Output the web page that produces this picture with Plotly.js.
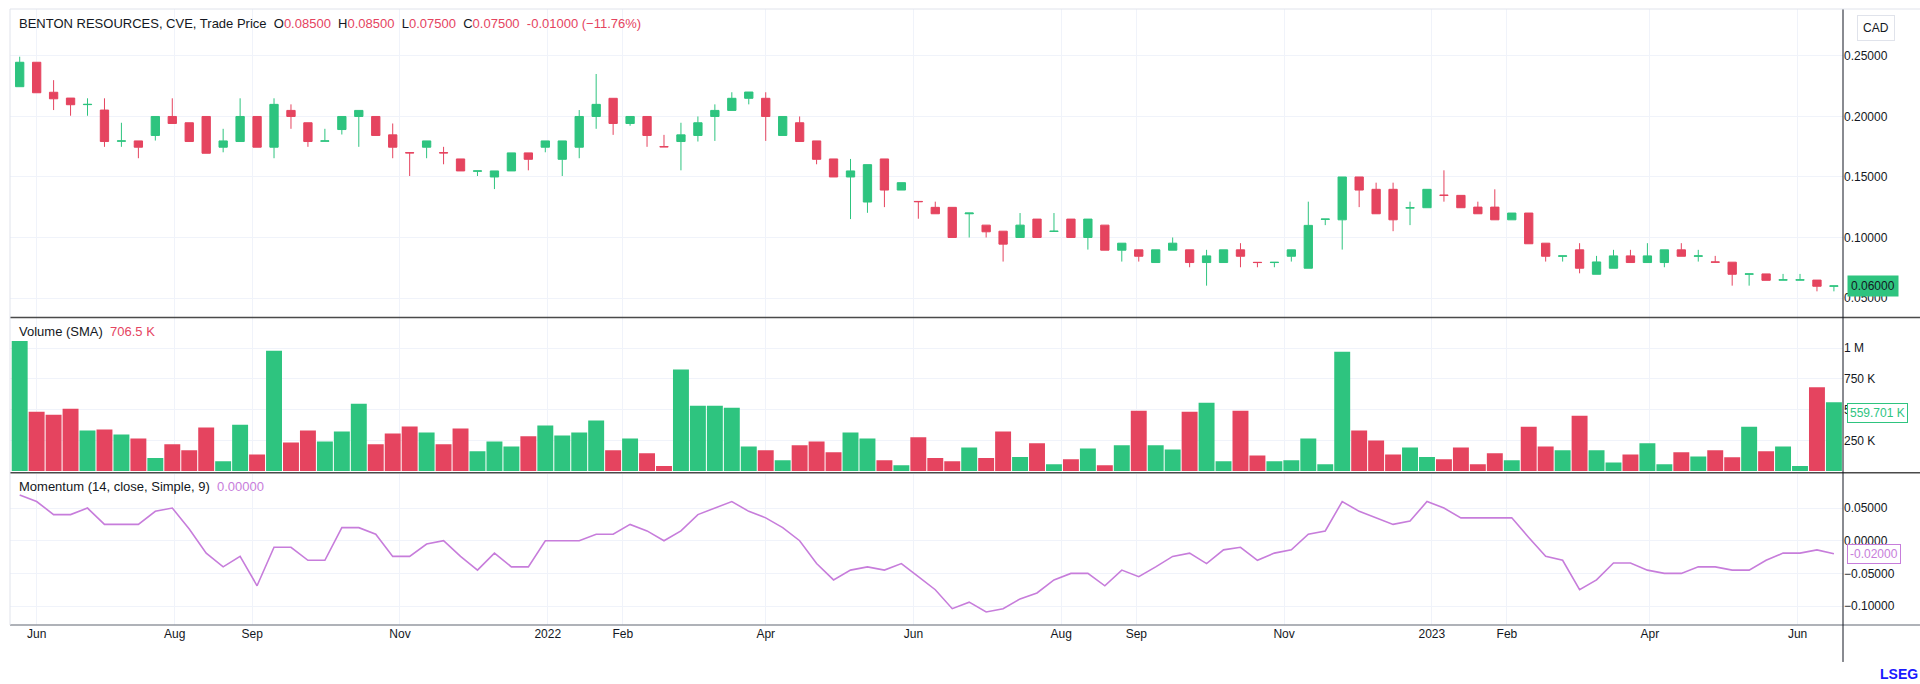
<!DOCTYPE html>
<html>
<head>
<meta charset="utf-8">
<script src="https://cdn.plot.ly/plotly-3.0.1.min.js"></script>
<style>
  html, body { margin: 0; padding: 0; background: #fff; }
  #chart { width: 1920px; height: 684px; }
</style>
</head>
<body>
<div id="chart"></div>
<script>
// weekly bars, May 2021 - Jun 2023
var opens  = [.2246,.2448,.2200,.2152,.2098,.2053,.1796,.1798,.1843,.2000,.1948,.2000,.1746,.1793,.2000,.1746,.2050,.1948,.1796,.1892,
              .2000,.2000,.1848,.1701,.1746,.1701,.1649,.1548,.1500,.1550,.1699,.1746,.1646,.1746,.2000,.2150,.1942,.2000,.1751,.1793,
              .1843,.2000,.2050,.2150,.2150,.1843,.1948,.1798,.1649,.1500,.1293,.1649,.1392,.1298,.1249,.1249,.1196,.1102,.1052,.1000,
              .1152,.1050,.1152,.1000,.1102,.0895,.0898,.0793,.0895,.0898,.0793,.0793,.0898,.0795,.0793,.0845,.0746,.1150,.1146,.1500,
              .1398,.1398,.1243,.1246,.1350,.1348,.1251,.1251,.1146,.1202,.0953,.0845,.0898,.0696,.0746,.0848,.0793,.0793,.0898,.0845,
              .0798,.0796,.0697,.0699,.0648,.0648,.0648,.0597];
var highs  = [.2494,.2448,.2300,.2152,.2150,.2150,.1948,.1798,.2000,.2150,.1948,.2000,.1898,.2150,.2000,.2150,.2100,.1948,.1898,.2000,
              .2050,.2000,.1942,.1701,.1798,.1749,.1649,.1550,.1550,.1699,.1699,.1798,.1798,.2053,.2351,.2150,.2000,.2000,.1848,.1948,
              .2000,.2100,.2200,.2202,.2200,.2000,.2000,.1798,.1649,.1649,.1602,.1649,.1453,.1298,.1296,.1249,.1202,.1102,.1052,.1202,
              .1152,.1202,.1152,.1152,.1102,.0953,.0898,.0898,.1000,.0898,.0898,.0898,.0953,.0795,.0795,.0898,.1296,.1152,.1500,.1500,
              .1453,.1453,.1296,.1398,.1555,.1348,.1296,.1398,.1202,.1202,.0953,.0848,.0953,.0848,.0898,.0898,.0953,.0898,.0953,.0898,
              .0848,.0796,.0699,.0699,.0699,.0699,.0648,.0600];
var lows   = [.2246,.2196,.2053,.2006,.2006,.1749,.1749,.1655,.1801,.1942,.1793,.1696,.1704,.1793,.1746,.1655,.1898,.1749,.1796,.1851,
              .1749,.1843,.1655,.1508,.1655,.1605,.1550,.1508,.1400,.1550,.1555,.1704,.1508,.1655,.1898,.1848,.1923,.1749,.1749,.1555,
              .1793,.1798,.2050,.2100,.1798,.1843,.1793,.1605,.1500,.1152,.1204,.1251,.1392,.1155,.1196,.1000,.1000,.1000,.0801,.1000,
              .1000,.1050,.1000,.0900,.0895,.0801,.0801,.0793,.0895,.0754,.0602,.0793,.0754,.0754,.0754,.0801,.0746,.1102,.0900,.1251,
              .1196,.1052,.1102,.1246,.1296,.1246,.1196,.1146,.1146,.0948,.0801,.0801,.0704,.0696,.0746,.0793,.0793,.0754,.0845,.0801,
              .0796,.0602,.0602,.0646,.0648,.0648,.0555,.0555];
var closes = [.2448,.2196,.2146,.2097,.2100,.1793,.1798,.1746,.2000,.1942,.1793,.1696,.1798,.2000,.1746,.2100,.2000,.1793,.1798,.2000,
              .2050,.1843,.1746,.1699,.1798,.1699,.1550,.1550,.1550,.1699,.1646,.1798,.1798,.2000,.2100,.1942,.2000,.1843,.1749,.1848,
              .1948,.2050,.2150,.2202,.2000,.2000,.1793,.1646,.1500,.1550,.1602,.1392,.1453,.1296,.1196,.1000,.1202,.1047,.0945,.1102,
              .1000,.1052,.1000,.1152,.0895,.0953,.0845,.0898,.0953,.0793,.0848,.0898,.0845,.0793,.0795,.0898,.1100,.1152,.1500,.1392,
              .1196,.1146,.1246,.1398,.1348,.1246,.1196,.1146,.1202,.0948,.0845,.0848,.0746,.0798,.0848,.0793,.0848,.0898,.0845,.0848,
              .0796,.0696,.0699,.0646,.0650,.0650,.0597,.0600];
var volumes = [1059,482,458,506,330,338,298,265,106,217,168,355,79,376,135,980,233,330,241,322,
               547,217,306,363,314,217,347,160,241,200,282,371,290,314,412,168,265,144,41,826,
               531,531,515,200,168,87,209,241,152,314,265,87,46,274,106,79,192,106,322,114,
               225,54,95,184,46,209,490,209,176,482,555,79,490,127,79,87,265,54,972,330,
               249,135,192,114,95,192,54,144,87,360,200,168,450,168,70,135,225,54,152,119,
               168,111,360,160,200,41,682,560];
var momentum = [.070,.060,.040,.040,.050,.025,.025,.025,.045,.050,.018,-.019,-.040,-.024,-.069,-.010,-.010,-.030,-.030,.020,
                .020,.010,-.024,-.024,-.005,.000,-.024,-.045,-.019,-.040,-.040,.000,.000,.000,.010,.010,.025,.015,.000,.015,
                .040,.050,.060,.045,.035,.020,.000,-.035,-.060,-.045,-.040,-.045,-.035,-.055,-.075,-.104,-.094,-.109,-.104,-.089,
                -.080,-.060,-.050,-.050,-.069,-.045,-.055,-.040,-.024,-.019,-.035,-.014,-.010,-.030,-.019,-.014,.010,.015,.060,.045,
                .035,.025,.030,.060,.050,.035,.035,.035,.035,.005,-.024,-.030,-.075,-.060,-.034,-.034,-.045,-.050,-.050,-.040,
                -.040,-.045,-.045,-.030,-.019,-.019,-.014,-.020];
var tickDates = ['2021-05-31','2021-07-27','2021-08-28','2021-10-28','2021-12-28','2022-01-28','2022-03-28','2022-05-28',
                 '2022-07-28','2022-08-28','2022-10-28','2022-12-28','2023-01-28','2023-03-28','2023-05-28'];
var tickLabels = ['Jun','Aug','Sep','Nov','2022','Feb','Apr','Jun','Aug','Sep','Nov','2023','Feb','Apr','Jun'];

var UP = '#2ec47f', DOWN = '#e5445f', MOM = '#c77ddb';

var dates = [];
var d0 = new Date(Date.UTC(2021, 4, 24));
for (var i = 0; i < closes.length; i++) {
  var d = new Date(d0.getTime() + i * 7 * 86400000);
  dates.push(d.toISOString().slice(0, 10));
}
var volColors = closes.map(function (c, i) { return c >= opens[i] ? UP : DOWN; });
var volValues = volumes.map(function (v) { return v * 1000; });

var font = {family: 'Liberation Sans, Arial, sans-serif', size: 12, color: '#131722'};
var grid = '#f0f3fa';

var data = [
  {type: 'candlestick', x: dates, open: opens, high: highs, low: lows, close: closes,
   increasing: {line: {color: UP, width: 1}, fillcolor: UP},
   decreasing: {line: {color: DOWN, width: 1}, fillcolor: DOWN},
   whiskerwidth: 0, xaxis: 'x', yaxis: 'y', hoverinfo: 'skip'},
  {type: 'bar', x: dates, y: volValues, marker: {color: volColors, line: {width: 0}},
   xaxis: 'x', yaxis: 'y2', hoverinfo: 'skip'},
  {type: 'scatter', mode: 'lines', x: dates, y: momentum, line: {color: MOM, width: 1.6},
   xaxis: 'x', yaxis: 'y3', hoverinfo: 'skip'}
];

var xr = ['2021-05-20', '2023-06-15 18:00'];
var layout = {
  width: 1920, height: 684,
  margin: {l: 10, r: 77, t: 9, b: 59},
  paper_bgcolor: '#fff', plot_bgcolor: '#fff',
  showlegend: false, bargap: 0.06, font: font,
  xaxis: {type: 'date', range: xr, tickvals: tickDates, ticktext: tickLabels,
          showgrid: true, gridcolor: grid, rangeslider: {visible: false},
          zeroline: false, ticks: '', tickfont: {size: 12, color: '#131722'}, anchor: 'y3'},
  yaxis: {domain: [0.5, 1], side: 'right', range: [0.0343, 0.2888],
          tickvals: [0.05, 0.10, 0.15, 0.20, 0.25], tickformat: '.5f',
          gridcolor: grid, zeroline: false, ticks: '', fixedrange: true},
  yaxis2: {domain: [0.25, 0.498], side: 'right', range: [0, 1244000],
           tickvals: [250000, 500000, 750000, 1000000], ticktext: ['250 K', '500 K', '750 K', '1 M'],
           gridcolor: grid, zeroline: false, ticks: ''},
  yaxis3: {domain: [0, 0.245], side: 'right', range: [-0.129, 0.102],
           tickvals: [-0.10, -0.05, 0, 0.05], tickformat: '.5f',
           gridcolor: grid, zeroline: false, ticks: ''},
  shapes: [
    {type: 'line', xref: 'paper', yref: 'paper', x0: 0, x1: 1.042, y0: 0.499, y1: 0.499, line: {color: '#4a4a4a', width: 1.5}},
    {type: 'line', xref: 'paper', yref: 'paper', x0: 0, x1: 1.042, y0: 0.247, y1: 0.247, line: {color: '#4a4a4a', width: 1.5}},
    {type: 'line', xref: 'paper', yref: 'paper', x0: 0, x1: 1.042, y0: 0, y1: 0, line: {color: '#9598a1', width: 1.5}},
    {type: 'line', xref: 'paper', yref: 'paper', x0: 1, x1: 1, y0: -0.06, y1: 1, line: {color: '#131722', width: 1}},
    {type: 'line', xref: 'paper', yref: 'paper', x0: 0, x1: 0, y0: 0, y1: 1, line: {color: '#e0e3eb', width: 1}},
    {type: 'line', xref: 'paper', yref: 'paper', x0: 0, x1: 1.042, y0: 1, y1: 1, line: {color: '#e0e3eb', width: 1}}
  ],
  annotations: [
    {xref: 'paper', yref: 'paper', x: 0.004, y: 0.992, xanchor: 'left', yanchor: 'top', showarrow: false,
     font: {size: 13, color: '#131722'},
     text: 'BENTON RESOURCES, CVE, Trade Price  O<span style="color:' + DOWN + '">0.08500</span>  H<span style="color:' + DOWN + '">0.08500</span>  L<span style="color:' + DOWN + '">0.07500</span>  C<span style="color:' + DOWN + '">0.07500</span>  <span style="color:' + DOWN + '">-0.01000 (−11.76%)</span>'},
    {xref: 'paper', yref: 'paper', x: 0.004, y: 0.492, xanchor: 'left', yanchor: 'top', showarrow: false,
     font: {size: 13, color: '#131722'},
     text: 'Volume (SMA)  <span style="color:' + DOWN + '">706.5 K</span>'},
    {xref: 'paper', yref: 'paper', x: 0.004, y: 0.24, xanchor: 'left', yanchor: 'top', showarrow: false,
     font: {size: 13, color: '#131722'},
     text: 'Momentum (14, close, Simple, 9)  <span style="color:' + MOM + '">0.00000</span>'},
    {xref: 'paper', yref: 'paper', x: 1.0075, y: 0.99, xanchor: 'left', yanchor: 'top', showarrow: false,
     text: 'CAD', font: {size: 12, color: '#131722'}, bordercolor: '#e0e3eb', borderwidth: 1, borderpad: 5, bgcolor: '#fff'},
    {xref: 'paper', yref: 'y', x: 1.002, y: closes[closes.length - 1], xanchor: 'left', showarrow: false,
     text: '0.06000', font: {size: 12, color: '#131722'}, bgcolor: UP, borderpad: 3},
    {xref: 'paper', yref: 'y2', x: 1.002, y: 470000, xanchor: 'left', showarrow: false,
     text: '559.701 K', font: {size: 12, color: UP}, bgcolor: '#fff', bordercolor: UP, borderwidth: 1, borderpad: 2},
    {xref: 'paper', yref: 'y3', x: 1.002, y: momentum[momentum.length - 1], xanchor: 'left', showarrow: false,
     text: '-0.02000', font: {size: 12, color: MOM}, bgcolor: '#fff', bordercolor: MOM, borderwidth: 1, borderpad: 2},
    {xref: 'paper', yref: 'paper', x: 1.042, y: -0.095, xanchor: 'right', yanchor: 'bottom', showarrow: false,
     text: '<b>LSEG</b>', font: {size: 14, color: '#1a1aff'}}
  ]
};

Plotly.newPlot('chart', data, layout, {staticPlot: true, displayModeBar: false});
</script>
</body>
</html>
